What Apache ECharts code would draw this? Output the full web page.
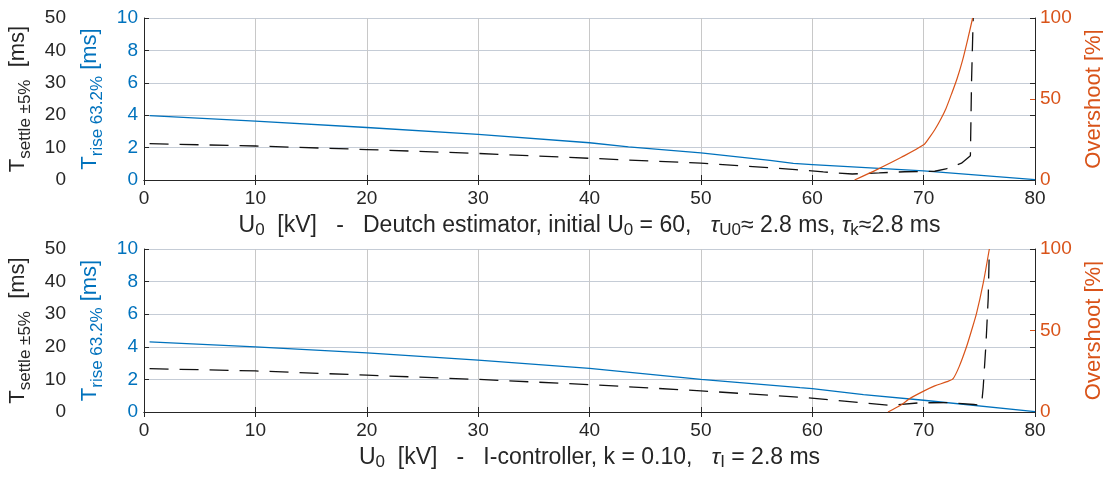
<!DOCTYPE html>
<html>
<head>
<meta charset="utf-8">
<script src="https://cdn.jsdelivr.net/npm/echarts@6/dist/echarts.min.js"></script>
<style>
  html, body { margin: 0; padding: 0; background: #fff; }
  #chart { width: 1103px; height: 479px; }
</style>
</head>
<body>
<div id="chart"></div>
<script>
// top panel: Deutch estimator
const topRiseU = [0.5, 10, 20, 30, 40, 43.5, 50, 56.2, 58.3, 60, 70, 80];
const topRise = [3.97, 3.63, 3.24, 2.82, 2.3, 2.05, 1.68, 1.21, 1.02, 0.95, 0.56, 0.02];
const topSettleU = [0.5, 10, 20, 30, 40, 50, 56.5, 58.5, 61, 63.6, 66, 68.3, 70, 71, 72, 73.4, 74.2, 74.3, 74.45];
const topSettle = [11.2, 10.5, 9.4, 8.2, 6.7, 5.2, 3.7, 3.2, 2.5, 1.85, 2.2, 2.55, 2.6, 2.7, 3.4, 5.2, 7.5, 30, 50];
const topOverU = [63.8, 65.8, 68, 70, 70.5, 71, 71.5, 72, 72.5, 73, 73.5, 74, 74.4];
const topOver = [0, 6.4, 14, 21.7, 26, 31, 37, 44, 53, 62.5, 74, 88, 100];

// bottom panel: I-controller
const botRiseU = [0.5, 10, 20, 30, 40, 50, 58.9, 60, 64.6, 70, 80];
const botRise = [4.3, 4.0, 3.63, 3.18, 2.68, 2.0, 1.5, 1.44, 1.06, 0.72, 0.02];
const botSettleU = [0.5, 10, 20, 30, 40, 50, 59.4, 62, 64.5, 67, 69.6, 72.2, 74.5, 75.2, 75.35, 75.6, 75.8, 75.9];
const botSettle = [13.3, 12.6, 11.3, 10.0, 8.4, 6.5, 4.4, 3.6, 2.8, 2.06, 2.8, 2.9, 2.3, 2.1, 7.6, 21, 35, 50];
const botOverU = [66.8, 68, 68.75, 70, 71, 72.1, 72.65, 73.2, 73.85, 74.3, 74.75, 75.35, 75.9];
const botOver = [0, 4.5, 8.2, 12.8, 16, 18.6, 20.5, 28, 40, 50, 60.5, 79, 100];

const topXName = '{n|U}{s|0}{n|  [kV]   -   Deutch estimator, initial U}{s|0}{n| = 60,   }{g|τ}{s|U0}{n|≈ 2.8 ms, }{g|τ}{s|k}{n|≈2.8 ms}';
const botXName = '{n|U}{s|0}{n|  [kV]   -   I-controller, k = 0.10,   }{g|τ}{s|I}{n| = 2.8 ms}';

const BLUE = '#0072BD';
const ORANGE = '#D95319';
const DARK = '#262626';
const FONT = '"Liberation Sans", Arial, Helvetica, sans-serif';

const zip = (xs, ys) => xs.map((x, i) => [x, ys[i]]);

const grids = [
  { left: 144, top: 18, width: 891, height: 162, containLabel: false, outerBoundsMode: 'none' },
  { left: 144, top: 249, width: 891, height: 163, containLabel: false, outerBoundsMode: 'none' }
];

function nameRich(color) {
  return {
    t: { fontFamily: FONT, fontSize: 22, color: color, lineHeight: 32, verticalAlign: 'middle' },
    s: { fontFamily: FONT, fontSize: 17, color: color, lineHeight: 17, verticalAlign: 'bottom' },
    m: { fontFamily: FONT, fontSize: 22, color: color, lineHeight: 32, verticalAlign: 'middle' }
  };
}

function xAxesFor(g, name) {
  return [
    {
      type: 'value', gridIndex: g, position: 'bottom', min: 0, max: 80, interval: 10,
      axisLine: { lineStyle: { color: DARK, width: 1 } },
      axisTick: { inside: true, length: 5, lineStyle: { color: DARK } },
      axisLabel: { color: DARK, fontFamily: FONT, fontSize: 19, margin: 9 },
      splitLine: { show: true, lineStyle: { color: '#c8c8c8', width: 1 } },
      name: name, nameLocation: 'middle', nameGap: 33,
      nameTextStyle: {
        rich: {
          n: { fontFamily: FONT, fontSize: 23, color: DARK, lineHeight: 26, verticalAlign: 'middle' },
          g: { fontFamily: FONT, fontSize: 23, color: DARK, fontStyle: 'italic', lineHeight: 26, verticalAlign: 'middle' },
          s: { fontFamily: FONT, fontSize: 17, color: DARK, lineHeight: 16, verticalAlign: 'bottom' }
        }
      }
    },
    {
      type: 'value', gridIndex: g, position: 'top', min: 0, max: 80, interval: 10,
      axisLine: { lineStyle: { color: DARK, width: 1 } },
      axisTick: { inside: true, length: 5, lineStyle: { color: DARK } },
      axisLabel: { show: false },
      splitLine: { show: false }
    }
  ];
}

function yAxesFor(g) {
  return [
    {
      type: 'value', gridIndex: g, position: 'left', min: 0, max: 10, interval: 2,
      axisLine: { show: true, lineStyle: { color: DARK } },
      axisTick: { show: true, inside: true, length: 5, lineStyle: { color: DARK } },
      axisLabel: { color: BLUE, fontFamily: FONT, fontSize: 19, margin: 6 },
      splitLine: { show: true, lineStyle: { color: '#c5ccd6', width: 1 } },
      name: '{t|T}{s|rise 63.2%}{m| [ms]}', nameLocation: 'middle', nameRotate: 90, nameGap: 30,
      nameTextStyle: { rich: nameRich(BLUE) }
    },
    {
      type: 'value', gridIndex: g, position: 'left', offset: 72, min: 0, max: 50, interval: 10,
      axisLine: { show: false }, axisTick: { show: false },
      axisLabel: { color: DARK, fontFamily: FONT, fontSize: 19, margin: 6 },
      splitLine: { show: false },
      name: '{t|T}{s|settle ±5%}{m|  [ms]}', nameLocation: 'middle', nameRotate: 90, nameGap: 34,
      nameTextStyle: { rich: nameRich(DARK) }
    },
    {
      type: 'value', gridIndex: g, position: 'right', min: 0, max: 100, interval: 50,
      axisLine: { show: false },
      axisTick: { show: true, inside: true, length: 5, lineStyle: { color: ORANGE } },
      axisLabel: { color: ORANGE, fontFamily: FONT, fontSize: 19, margin: 5 },
      splitLine: { show: false },
      name: 'Overshoot [%]', nameLocation: 'middle', nameRotate: 90, nameGap: 44,
      nameTextStyle: { color: ORANGE, fontFamily: FONT, fontSize: 22 }
    },
    {
      type: 'value', gridIndex: g, position: 'right', min: 0, max: 10, interval: 2,
      axisLine: { show: true, lineStyle: { color: DARK } },
      axisTick: { show: true, inside: true, length: 5, lineStyle: { color: DARK } },
      axisLabel: { show: false },
      splitLine: { show: false }
    }
  ];
}

function seriesFor(g, rise, settle, over) {
  const xi = g * 2, yi = g * 4;
  return [
    {
      type: 'line', xAxisIndex: xi, yAxisIndex: yi, data: rise, symbol: 'none',
      lineStyle: { color: BLUE, width: 1.3 }, z: 3
    },
    {
      type: 'line', xAxisIndex: xi, yAxisIndex: yi + 1, data: settle, symbol: 'none',
      lineStyle: { color: '#111', width: 1.3, type: [19, 11] }, z: 4
    },
    {
      type: 'line', xAxisIndex: xi, yAxisIndex: yi + 2, data: over, symbol: 'none', smooth: 0.25,
      lineStyle: { color: ORANGE, width: 1.2 }, z: 5
    }
  ];
}

const chart = echarts.init(document.getElementById('chart'));
chart.setOption({
  animation: false,
  backgroundColor: '#fff',
  grid: grids,
  xAxis: [...xAxesFor(0, topXName), ...xAxesFor(1, botXName)],
  yAxis: [...yAxesFor(0), ...yAxesFor(1)],
  series: [
    ...seriesFor(0, zip(topRiseU, topRise), zip(topSettleU, topSettle), zip(topOverU, topOver)),
    ...seriesFor(1, zip(botRiseU, botRise), zip(botSettleU, botSettle), zip(botOverU, botOver))
  ]
});
</script>
</body>
</html>
